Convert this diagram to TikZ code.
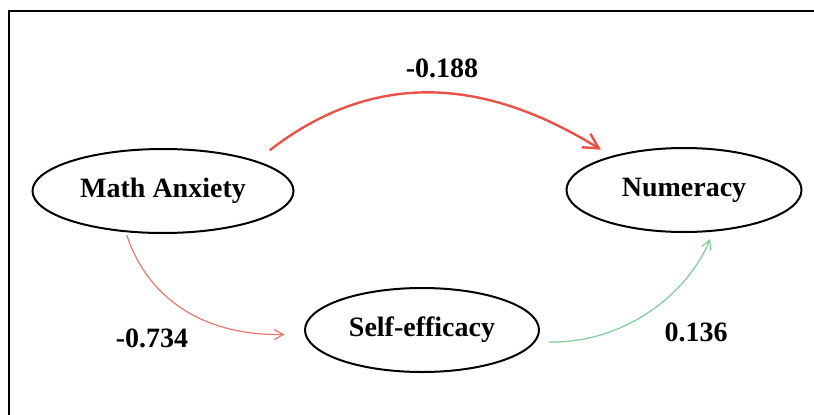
\documentclass[tikz,border=0pt]{standalone}
\usepackage{fontspec}
\setmainfont{Liberation Serif}
\usetikzlibrary{shapes.geometric,arrows.meta}
\definecolor{pathred}{RGB}{232,82,72}
\definecolor{palered}{RGB}{236,118,108}
\definecolor{palegreen}{RGB}{128,202,148}
\begin{document}
\begin{tikzpicture}[x=1pt,y=-1pt,
    var/.style={draw,ellipse,line width=2pt,inner sep=0pt,font=\fontsize{28}{32}\selectfont\bfseries},
    coef/.style={font=\fontsize{28}{32}\selectfont\bfseries}]
    \useasboundingbox (0,0) rectangle (814,415);
    \draw[line width=2pt] (9,418) |- (818,11);
    % latent variables
    \node[var, minimum width=261pt, minimum height=84pt] (anx) at (163,191) {Math Anxiety};
    \node[var, minimum width=235pt, minimum height=84pt] (num) at (684,190) {Numeracy};
    \node[var, minimum width=234pt, minimum height=84pt] (eff) at (422,330) {Self-efficacy};
    % paths
    \draw[-{Straight Barb[length=15pt,width=16pt]}, pathred, line width=2.4pt, shorten <=17pt, shorten >=12pt]
        (anx.18) .. controls (376,68) and (487,79) .. (num.155);
    \draw[-{Straight Barb[length=9pt,width=10pt]}, palered, line width=1.2pt, shorten <=3pt, shorten >=20pt]
        (anx.228) .. controls (145,291) and (195,336) .. (eff.182);
    \draw[-{Straight Barb[length=9pt,width=10pt]}, palegreen, line width=1.2pt, shorten <=14pt, shorten >=8pt]
        (eff.-6) .. controls (628,343) and (689,291) .. (num.-55);
    % coefficients
    \node[coef] (c1) at (442,68) {-0.188};
    \node[coef] (c2) at (152,338) {-0.734};
    \node[coef] (c3) at (696,332) {0.136};
\end{tikzpicture}
\end{document}
